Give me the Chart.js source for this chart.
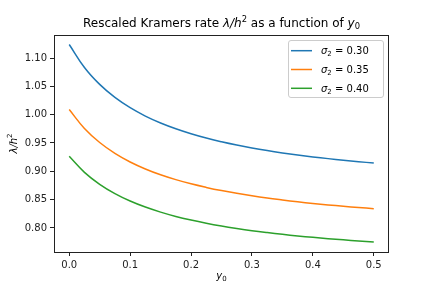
<!DOCTYPE html>
<html>
<head>
<meta charset="utf-8">
<script src="https://cdn.jsdelivr.net/npm/chart.js@4/dist/chart.umd.min.js"></script>
<style>
html,body{margin:0;padding:0;background:#fff;}
canvas{display:block;}
</style>
</head>
<body>
<canvas id="c" width="432" height="288"></canvas>
<script>
// ---- data ----
const y0 = [0, 0.025, 0.05, 0.075, 0.1, 0.125, 0.15, 0.175, 0.2, 0.225, 0.25,
            0.275, 0.3, 0.325, 0.35, 0.375, 0.4, 0.425, 0.45, 0.475, 0.5];
const rateSigma030 = [1.1239, 1.0833, 1.0534, 1.0304, 1.0123, 0.9975, 0.9853, 0.9751, 0.9663, 0.9587, 0.9522,
                      0.9464, 0.9412, 0.9366, 0.9325, 0.9288, 0.9254, 0.9224, 0.9196, 0.9170, 0.9146];
const rateSigma035 = [1.0090, 0.9756, 0.9508, 0.9317, 0.9165, 0.9042, 0.8939, 0.8853, 0.8779, 0.8716, 0.8660,
                      0.8611, 0.8567, 0.8528, 0.8494, 0.8462, 0.8433, 0.8407, 0.8383, 0.8361, 0.8341];
const rateSigma040 = [0.9265, 0.8982, 0.8771, 0.8607, 0.8476, 0.8369, 0.8280, 0.8204, 0.8140, 0.8084, 0.8035,
                      0.7992, 0.7953, 0.7919, 0.7888, 0.7860, 0.7835, 0.7812, 0.7791, 0.7771, 0.7753];
const sigmaLabels = ['0.30', '0.35', '0.40'];
const xTicks = [0.0, 0.1, 0.2, 0.3, 0.4, 0.5];
const yTicks = [0.80, 0.85, 0.90, 0.95, 1.00, 1.05, 1.10];

const colors = ['#1f77b4', '#ff7f0e', '#2ca02c'];
const FONT = '"DejaVu Sans", "Liberation Sans", sans-serif';

function pts(ys) { return ys.map((v, i) => ({x: y0[i], y: v})); }
const series = [rateSigma030, rateSigma035, rateSigma040];

function drawRich(ctx, segs, x, y, size, align) {
  const parts = segs.map(s => {
    const sz = (s.sub || s.sup) ? size * 0.7 : size;
    const font = (s.it ? 'italic ' : '') + sz + 'px ' + FONT;
    ctx.font = font;
    return {t: s.t, font, w: ctx.measureText(s.t).width,
            dy: s.sub ? size * 0.2 : (s.sup ? -size * 0.45 : 0)};
  });
  const total = parts.reduce((a, p) => a + p.w, 0);
  let cx = align === 'center' ? x - total / 2 : x;
  ctx.textAlign = 'left';
  ctx.textBaseline = 'alphabetic';
  parts.forEach(p => { ctx.font = p.font; ctx.fillText(p.t, cx, y + p.dy); cx += p.w; });
}

const decor = {
  id: 'decor',
  afterDraw(chart) {
    const ctx = chart.ctx, a = chart.chartArea;
    ctx.save();
    // axes box (spines)
    ctx.strokeStyle = '#222';
    ctx.lineWidth = 1;
    ctx.strokeRect(Math.round(a.left) + 0.5, Math.round(a.top) + 0.5,
                   Math.round(a.right - a.left) - 1, Math.round(a.bottom - a.top));
    ctx.fillStyle = '#000';
    // title
    drawRich(ctx, [
      {t: 'Rescaled Kramers rate '}, {t: 'λ/h', it: true}, {t: '2', sup: true},
      {t: ' as a function of '}, {t: 'y', it: true}, {t: '0', sub: true}
    ], (a.left + a.right) / 2, 27, 12, 'center');
    // x label
    drawRich(ctx, [{t: 'y', it: true}, {t: '0', sub: true}], (a.left + a.right) / 2, 279, 10, 'center');
    // y label
    ctx.save();
    ctx.translate(16.5, (a.top + a.bottom) / 2);
    ctx.rotate(-Math.PI / 2);
    drawRich(ctx, [{t: 'λ/h', it: true}, {t: '2', sup: true}], 0, 0, 10, 'center');
    ctx.restore();
    // legend
    const lx = 288.5, ly = 40.5, lw = 95, lh = 57, r = 2.5;
    ctx.beginPath();
    ctx.moveTo(lx + r, ly);
    ctx.arcTo(lx + lw, ly, lx + lw, ly + lh, r);
    ctx.arcTo(lx + lw, ly + lh, lx, ly + lh, r);
    ctx.arcTo(lx, ly + lh, lx, ly, r);
    ctx.arcTo(lx, ly, lx + lw, ly, r);
    ctx.closePath();
    ctx.fillStyle = 'rgba(255,255,255,0.8)';
    ctx.fill();
    ctx.strokeStyle = '#cccccc';
    ctx.lineWidth = 1;
    ctx.stroke();
    chart.data.datasets.forEach((ds, i) => {
      const cy = 50.7 + i * 18.8;
      ctx.strokeStyle = ds.borderColor;
      ctx.lineWidth = 1.5;
      ctx.beginPath();
      ctx.moveTo(291, cy);
      ctx.lineTo(312, cy);
      ctx.stroke();
      ctx.fillStyle = '#000';
      drawRich(ctx, [{t: 'σ', it: true}, {t: '2', sub: true}, {t: ' = ' + ds.label}], 321, cy + 3.6, 10, 'left');
    });
    ctx.restore();
  }
};

new Chart(document.getElementById('c'), {
  type: 'line',
  data: {
    datasets: series.map((s, i) => ({
      label: sigmaLabels[i],
      data: pts(s),
      borderColor: colors[i],
      backgroundColor: colors[i],
      borderWidth: 1.5,
      pointRadius: 0,
      fill: false,
      tension: 0.4
    }))
  },
  options: {
    responsive: false,
    animation: false,
    devicePixelRatio: 1,
    layout: {padding: {left: 0, top: 35, right: 43, bottom: 0}},
    plugins: {legend: {display: false}, title: {display: false}, tooltip: {enabled: false}},
    scales: {
      x: {
        type: 'linear', min: -0.025, max: 0.525,
        afterBuildTicks: s => { s.ticks = xTicks.map(v => ({value: v})); },
        afterFit: s => { s.height = 36; },
        grid: {drawOnChartArea: false, drawTicks: true, tickLength: 4, color: '#222', tickWidth: 1},
        border: {display: false},
        ticks: {padding: 3, color: '#222', font: {family: FONT, size: 10},
                maxRotation: 0, callback: v => v.toFixed(1)}
      },
      y: {
        type: 'linear', min: 0.7576, max: 1.1406,
        afterBuildTicks: s => { s.ticks = yTicks.map(v => ({value: v})); },
        afterFit: s => { s.width = 54; },
        grid: {drawOnChartArea: false, drawTicks: true, tickLength: 4, color: '#222', tickWidth: 1},
        border: {display: false},
        ticks: {padding: 3, color: '#222', font: {family: FONT, size: 10},
                callback: v => v.toFixed(2)}
      }
    }
  },
  plugins: [decor]
});
</script>
</body>
</html>
